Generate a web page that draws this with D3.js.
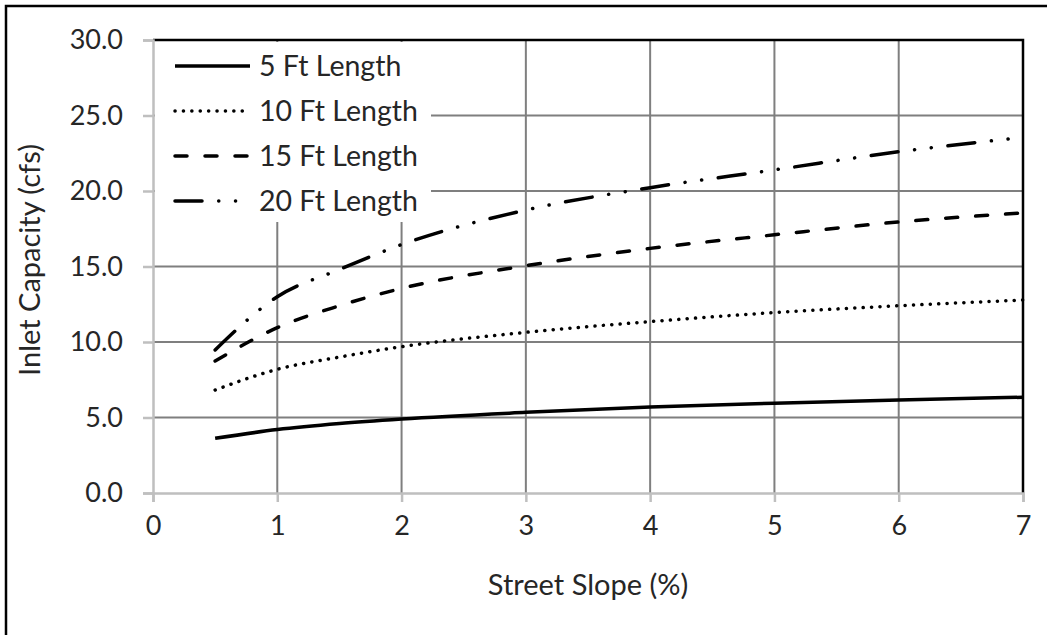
<!DOCTYPE html>
<html><head><meta charset="utf-8">
<script src="https://cdn.jsdelivr.net/npm/d3@7"></script>
<style>
html,body{margin:0;padding:0;background:#fff;}
svg{display:block;}
text{font-family:Lato,"Open Sans",sans-serif;fill:#262626;}
</style></head><body>
<svg id="chart" width="1047" height="635"></svg>
<script>
const slopes = [0.5, 1, 1.5, 2, 3, 4, 5, 6, 7];
const cap5  = [3.62, 4.2, 4.6, 4.9, 5.34, 5.7, 5.95, 6.16, 6.34];
const cap10 = [6.82, 8.19, 9.0, 9.69, 10.64, 11.35, 11.95, 12.4, 12.78];
const cap15 = [8.74, 10.95, 12.4, 13.55, 15.05, 16.2, 17.1, 17.95, 18.55];
const cap20 = [9.47, 13.0, 14.8, 16.45, 18.74, 20.22, 21.4, 22.6, 23.55];
const seriesNames = ["5 Ft Length", "10 Ft Length", "15 Ft Length", "20 Ft Length"];
const xTicks = [0, 1, 2, 3, 4, 5, 6, 7];
const yTicks = [0, 5, 10, 15, 20, 25, 30];

const styles = [
  {dash: null, cap: "butt"},
  {dash: "0.1 8.3", cap: "round"},
  {dash: "12 18", cap: "round"},
  {dash: "27 16.7 0.1 16.7 0.1 16.7", cap: "round"}
];
const allVals = [cap5, cap10, cap15, cap20];

const svg = d3.select("#chart");
const L = 153, R = 1023, T = 40, B = 493;
const x = d3.scaleLinear().domain([0, 7]).range([L, R]);
const y = d3.scaleLinear().domain([0, 30]).range([B, T]);

// outer frame
svg.append("rect").attr("x", 6).attr("y", 6).attr("width", 1200).attr("height", 1000)
  .attr("fill", "none").attr("stroke", "#000").attr("stroke-width", 2.5);

// gridlines
const g = svg.append("g");
g.selectAll("line.vg").data(xTicks.filter(d => d > 0 && d < 7)).join("line")
  .attr("x1", d => x(d)).attr("x2", d => x(d)).attr("y1", T).attr("y2", B)
  .attr("stroke", "#7f7f7f").attr("stroke-width", 2);
g.selectAll("line.hg").data(yTicks.filter(d => d > 0 && d < 30)).join("line")
  .attr("x1", L).attr("x2", R).attr("y1", d => y(d)).attr("y2", d => y(d))
  .attr("stroke", "#7f7f7f").attr("stroke-width", 2);

// top & right black border
svg.append("path").attr("d", `M${L},${T}H${R}V${B}`).attr("fill", "none")
  .attr("stroke", "#000").attr("stroke-width", 2.5);

// axes
const xAxis = d3.axisBottom(x).tickValues(xTicks).tickSize(9).tickPadding(14).tickFormat(d3.format("d"));
const yAxis = d3.axisLeft(y).tickValues(yTicks).tickSize(10).tickPadding(20).tickFormat(d3.format(".1f"));
const gx = svg.append("g").attr("transform", `translate(0,${B})`).call(xAxis);
const gy = svg.append("g").attr("transform", `translate(${L},0)`).call(yAxis);
[gx, gy].forEach(a => {
  a.select(".domain").attr("stroke", "#bfbfbf").attr("stroke-width", 2.5);
  a.selectAll(".tick line").attr("stroke", "#bfbfbf").attr("stroke-width", 2.5);
  a.selectAll(".tick text").style("font-size", "27px").style("font-family", "Lato, sans-serif").attr("fill", "#262626");
});

// lines
const line = d3.line().x(d => x(d[0])).y(d => y(d[1])).curve(d3.curveMonotoneX);
allVals.forEach((vals, i) => {
  const pts = slopes.map((s, j) => [s, vals[j]]);
  svg.append("path").datum(pts).attr("d", line).attr("fill", "none")
    .attr("stroke", "#000").attr("stroke-width", 3.5)
    .attr("stroke-dasharray", styles[i].dash).attr("stroke-linecap", styles[i].cap);
});

// legend
const lg = svg.append("g");
lg.append("rect").attr("x", L + 2).attr("y", T + 2).attr("width", 276).attr("height", 180).attr("fill", "#fff");
const rowY = [66, 111, 156, 201];
seriesNames.forEach((n, i) => {
  lg.append("line").attr("x1", 175).attr("x2", 250).attr("y1", rowY[i]).attr("y2", rowY[i])
    .attr("stroke", "#000").attr("stroke-width", 3.5)
    .attr("stroke-dasharray", styles[i].dash).attr("stroke-linecap", styles[i].cap);
  lg.append("text").attr("x", 259).attr("y", rowY[i]).attr("dy", "0.35em")
    .style("font-size", "28.5px").text(n);
});

// axis titles
svg.append("text").attr("x", 588).attr("y", 585).attr("dy", "0.35em").attr("text-anchor", "middle")
  .style("font-size", "29px").text("Street Slope (%)");
svg.append("text").attr("transform", "translate(30,260) rotate(-90)").attr("dy", "0.35em")
  .attr("text-anchor", "middle").style("font-size", "29px").text("Inlet Capacity (cfs)");
</script>
</body></html>
